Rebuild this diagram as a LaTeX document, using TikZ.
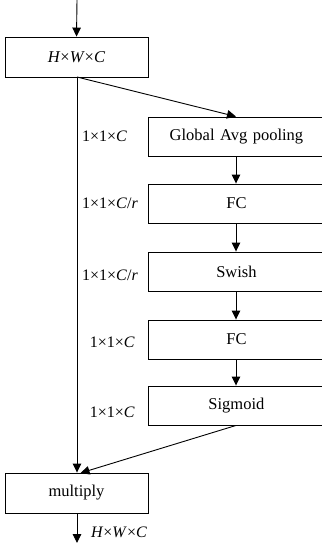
\documentclass[tikz,border=0pt]{standalone}
\usepackage{fontspec}
\setmainfont{Liberation Serif}
\usetikzlibrary{arrows.meta}
\begin{document}
\begin{tikzpicture}[x=1pt,y=-1pt,
  box/.style={draw,line width=0.9pt,rectangle,inner sep=0pt,font=\fontsize{16.5}{18}\selectfont},
  lbox/.style={box,minimum width=143pt,minimum height=40pt},
  rbox/.style={box,minimum width=184pt,minimum height=39pt,text width=176pt,align=center},
  lab/.style={font=\fontsize{16}{18}\selectfont,inner sep=0pt},
  arr/.style={line width=0.9pt,-{Triangle[length=9pt,width=8.5pt]}},
  ln/.style={line width=0.9pt}]
\useasboundingbox (0,0) rectangle (321,543);
\coordinate (in) at (77,0);
\coordinate (out) at (77,543);
\coordinate (col) at (236,0);
\node[lbox] (hwc) at (76.5,57) {\textit{H}×\textit{W}×\textit{C}};
\node[rbox,anchor=west] (gap) at (148,136.5) {\hspace*{-8pt}Global Avg pooling};
\node[rbox,anchor=west] (fc1) at (148,203.5) {\hspace*{-8pt}FC};
\node[rbox,anchor=west] (sw) at (148,271.5) {\hspace*{-8pt}Swish};
\node[rbox,anchor=west] (fc2) at (148,339.5) {\hspace*{-8pt}FC};
\node[rbox,anchor=west] (sig) at (148,405.5) {\hspace*{-8pt}Sigmoid};
\node[lbox] (mul) at (76.5,493) {multiply};
\coordinate (split) at (77,77);
\coordinate (join) at (80.5,473);
\draw[arr] (in) -- (hwc.north);
\draw[arr] (split) -- (mul.north -| split);
\draw[arr] (split) -- (gap.north -| col);
\draw[arr] (gap.south -| col) -- (fc1.north -| col);
\draw[arr] (fc1.south -| col) -- (sw.north -| col);
\draw[arr] (sw.south -| col) -- (fc2.north -| col);
\draw[arr] (fc2.south -| col) -- (sig.north -| col);
\draw[arr] (sig.south -| col) -- (join);
\draw[arr] (mul.south -| out) -- (out);
\node[lab,anchor=west] (l1) at (82,136) {1×1×\textit{C}};
\node[lab,anchor=west] (l2) at (82,203) {1×1×\textit{C}/\textit{r}};
\node[lab,anchor=west] (l3) at (82,275) {1×1×\textit{C}/\textit{r}};
\node[lab,anchor=east] (l4) at (135,342) {1×1×\textit{C}};
\node[lab,anchor=east] (l5) at (135,412) {1×1×\textit{C}};
\node[lab,anchor=west] (l6) at (91,532) {\textit{H}×\textit{W}×\textit{C}};
\end{tikzpicture}
\end{document}
